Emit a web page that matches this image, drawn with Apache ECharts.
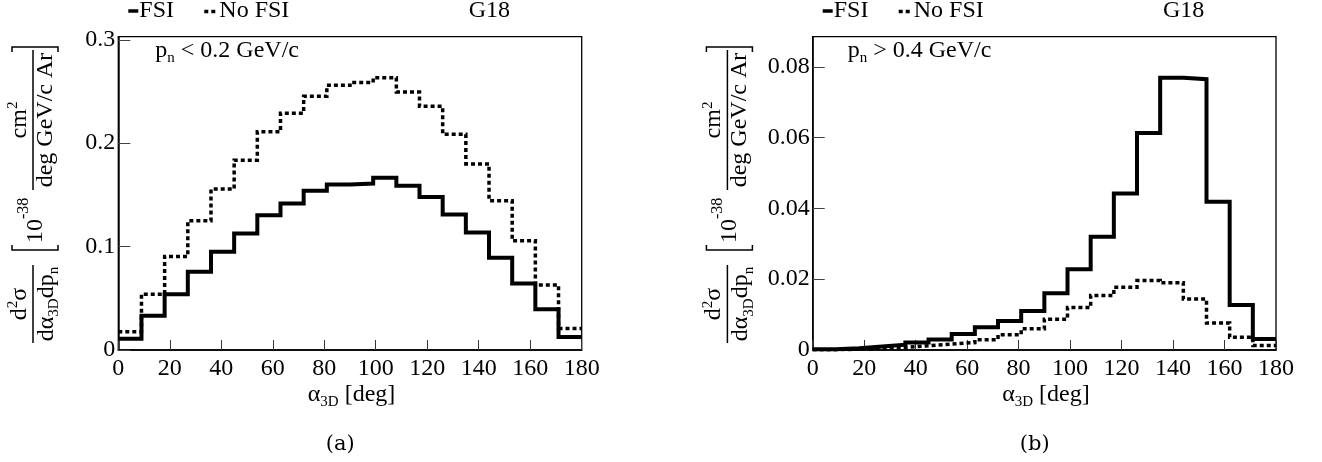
<!DOCTYPE html>
<html><head><meta charset="utf-8">
<script src="https://cdn.jsdelivr.net/npm/echarts@6/dist/echarts.min.js"></script>
<style>html,body{margin:0;padding:0;background:#fff}#c{width:1322px;height:462px}</style>
</head><body><div id="c"></div>
<script>
// ---- data ----
const binEdges = [0,9,18,27,36,45,54,63,72,81,90,99,108,117,126,135,144,153,162,171,180];
const xTickValues = [0,20,40,60,80,100,120,140,160,180];
const xTickLabels = ['0','20','40','60','80','100','120','140','160','180'];
// panel (a): p_n < 0.2 GeV/c
const fsiLow   = [0.0110,0.0332,0.0538,0.0757,0.0950,0.1127,0.1304,0.1417,0.1540,0.1600,0.1610,0.1665,0.1588,0.1480,0.1310,0.1137,0.0892,0.0644,0.0393,0.0125];
const noFsiLow = [0.0177,0.0540,0.0905,0.1250,0.1556,0.1836,0.2110,0.2290,0.2454,0.2560,0.2586,0.2634,0.2496,0.2357,0.2087,0.1800,0.1443,0.1056,0.0628,0.0209];
const yTickValuesLow = [0,0.1,0.2,0.3];
const yTickLabelsLow = ['0','0.1','0.2','0.3'];
// panel (b): p_n > 0.4 GeV/c
const fsiHigh   = [0.0002,0.0005,0.0010,0.0015,0.0021,0.0030,0.0045,0.0064,0.0082,0.0110,0.0160,0.0228,0.0320,0.0442,0.0613,0.0769,0.0765,0.0419,0.0127,0.0031];
const noFsiHigh = [0.0001,0.0002,0.0005,0.0007,0.0012,0.0017,0.0021,0.0029,0.0043,0.0060,0.0087,0.0120,0.0154,0.0177,0.0196,0.0190,0.0144,0.0076,0.0036,0.0013];
const yTickValuesHigh = [0,0.02,0.04,0.06,0.08];
const yTickLabelsHigh = ['0','0.02','0.04','0.06','0.08'];
const legendNames = ['FSI','No FSI'];
const modelName = 'G18';
const cutTexts = [['p','n',' < 0.2 GeV/c'],['p','n',' > 0.4 GeV/c']];
const captions = ['(a)','(b)'];

// ---- layout ----
const FONT = '"Liberation Serif", "Times New Roman", serif';
const P = [
  {left:118.3, top:36.7, width:463.4, height:313.3, ymax:0.303},
  {left:812.7, top:36.7, width:463.3, height:313.3, ymax:0.0885}
];
const ctx = document.createElement('canvas').getContext('2d');
function tw(s, size, fam){ ctx.font = size + 'px ' + (fam||FONT); return ctx.measureText(s).width; }
// run of text pieces [str,size,dy] on a baseline
function run(parts, x, base, align, fam){
  const widths = parts.map(p => tw(p[0], p[1], fam));
  const total = widths.reduce((a,b)=>a+b,0);
  let cx = align==='center' ? x - total/2 : (align==='right' ? x - total : x);
  const out = [];
  parts.forEach((p,i)=>{
    out.push({type:'text', x:cx, y: base + (p[2]||0) - 0.32*p[1],
      style:{text:p[0], fontSize:p[1], fontFamily:fam||FONT, fill:'#000', align:'left', verticalAlign:'middle'}, z:100});
    cx += widths[i];
  });
  return out;
}
function ln(x1,y1,x2,y2,w,dash){
  return {type:'line', shape:{x1,y1,x2,y2}, style:{stroke:'#000', lineWidth:w, lineDash:dash||null}, z:100};
}
function poly(pts,w){ return {type:'polyline', shape:{points:pts}, style:{stroke:'#000', fill:null, lineWidth:w}, z:100}; }

function yTitle(x0,y0){
  const ch = [];
  ch.push(ln(0,0,78,0,1.5));
  ch.push(...run([['d',24,0],['2',15,-9],['σ',24,0]], 39, -6, 'center'));
  ch.push(...run([['dα',24,0],['3D',15,5],['dp',24,0],['n',15,5]], 39, 21, 'center'));
  ch.push(poly([[98,-21],[93,-21],[93,25],[98,25]],1.5));
  ch.push(...run([['10',24,0],['-38',16,-14]], 100, 10, 'left'));
  ch.push(ln(153,0,293,0,1.5));
  ch.push(...run([['cm',24,0],['2',15,-9]], 223, -6, 'center'));
  ch.push(...run([['deg GeV/c Ar',24,0]], 223, 20, 'center'));
  ch.push(poly([[291,-21],[296,-21],[296,25],[291,25]],1.5));
  return {type:'group', x:x0, y:y0, rotation:Math.PI/2, children:ch};
}

const graphics = [];
P.forEach((p,i)=>{
  const fl = p.left;
  // legend
  graphics.push(ln(fl+10,11,fl+20,11,3.5));
  graphics.push(...run([[legendNames[0],24,0]], fl+21, 18.5, 'left'));
  graphics.push(ln(fl+86,11.5,fl+99,11.5,3.5,[4,3]));
  graphics.push(...run([[legendNames[1],24,0]], fl+101, 18.5, 'left'));
  graphics.push(...run([[modelName,24,0]], fl+371, 18.5, 'center'));
  // cut text
  const c = cutTexts[i];
  graphics.push(...run([[c[0],24,0],[c[1],15,5],[c[2],24,0]], fl+(i?35:37), 58, 'left'));
  // x title
  graphics.push(...run([['α',24,0],['3D',15,5],[' [deg]',24,0]], fl+277, 402, 'right'));
  // caption
  graphics.push(...run([[captions[i],21,0]], fl+222, 451, 'center', '"DejaVu Serif", serif'));
  // y title
  graphics.push(yTitle(33 + (fl-118.3), 343));
});

function stepData(vals){
  const d = vals.map((v,i)=>[binEdges[i], v]);
  d.push([binEdges[binEdges.length-1], vals[vals.length-1]]);
  return d;
}
function labelFrom(values, labels){
  return v => { for (let k=0;k<values.length;k++){ if (Math.abs(v-values[k])<1e-9) return labels[k]; } return ''; };
}

const option = {
  animation:false,
  backgroundColor:'#fff',
  grid: P.map(p=>({left:p.left, top:p.top, width:p.width, height:p.height, show:true, borderColor:'#000', borderWidth:1.3, backgroundColor:'transparent', containLabel:false})),
  xAxis: P.map((p,i)=>({type:'value', gridIndex:i, min:0, max:180, interval:20,
    axisLine:{show:true, onZero:false, lineStyle:{color:'#000', width:1.5}},
    axisTick:{show:true, inside:true, length:10, lineStyle:{color:'#333', width:1}},
    axisLabel:{show:true, margin:7, color:'#000', fontFamily:FONT, fontSize:24, formatter: labelFrom(xTickValues, xTickLabels)},
    splitLine:{show:false}})),
  yAxis: P.map((p,i)=>({type:'value', gridIndex:i, min:0, max:p.ymax, interval: i? 0.02 : 0.1,
    axisLine:{show:true, onZero:false, lineStyle:{color:'#000', width:1.5}},
    axisTick:{show:true, inside:true, length:12, lineStyle:{color:'#444', width:1}},
    axisLabel:{show:true, margin:3, color:'#000', fontFamily:FONT, fontSize:24, showMaxLabel:false,
      formatter: i? labelFrom(yTickValuesHigh, yTickLabelsHigh) : labelFrom(yTickValuesLow, yTickLabelsLow)},
    splitLine:{show:false}})),
  series: [
    {name:'FSI a', type:'line', xAxisIndex:0, yAxisIndex:0, step:'end', data:stepData(fsiLow), symbol:'none', lineStyle:{color:'#000', width:4, join:'miter', cap:'butt'}, z:3},
    {name:'NoFSI a', type:'line', xAxisIndex:0, yAxisIndex:0, step:'end', data:stepData(noFsiLow), symbol:'none', lineStyle:{color:'#000', width:3.5, type:[4,3], join:'miter', cap:'butt'}, z:2},
    {name:'FSI b', type:'line', xAxisIndex:1, yAxisIndex:1, step:'end', data:stepData(fsiHigh), symbol:'none', lineStyle:{color:'#000', width:4, join:'miter', cap:'butt'}, z:3},
    {name:'NoFSI b', type:'line', xAxisIndex:1, yAxisIndex:1, step:'end', data:stepData(noFsiHigh), symbol:'none', lineStyle:{color:'#000', width:3.5, type:[4,3], join:'miter', cap:'butt'}, z:2}
  ],
  graphic: graphics
};
const chart = echarts.init(document.getElementById('c'), null, {renderer:'canvas'});
chart.setOption(option);
</script>
</body></html>
